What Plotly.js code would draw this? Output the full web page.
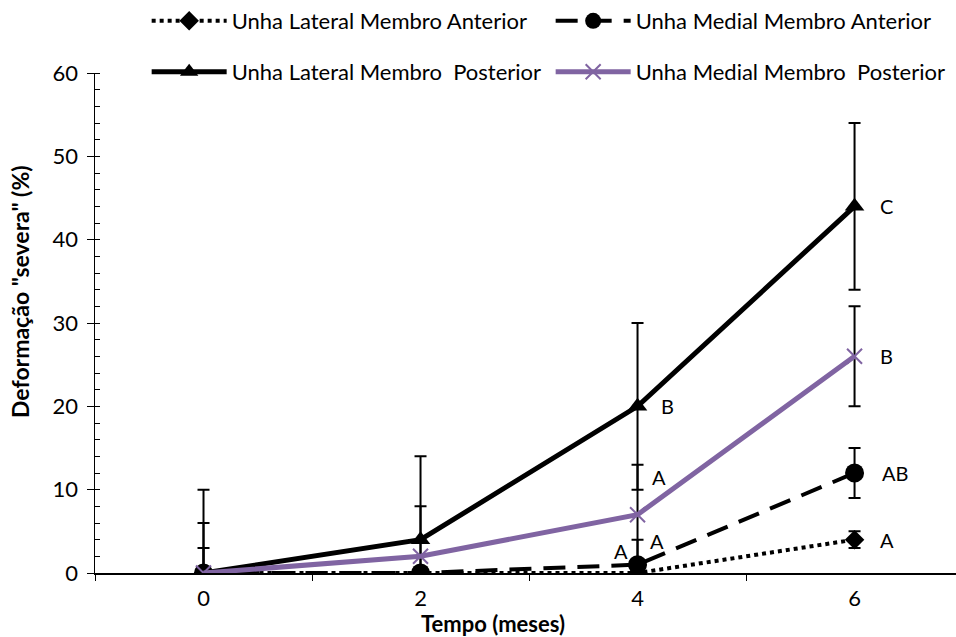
<!DOCTYPE html>
<html><head><meta charset="utf-8">
<script src="https://cdn.plot.ly/plotly-3.0.1.min.js"></script>
<style>html,body{margin:0;padding:0;background:#fff}#c{width:956px;height:637px}</style>
</head><body><div id="c"></div>
<script>
const meses = [0, 2, 4, 6];
const names = ["Unha Lateral Membro Anterior", "Unha Medial Membro Anterior", "Unha Lateral Membro  Posterior", "Unha Medial Membro  Posterior"];
const lateralAnterior = [0, 0, 0, 4];
const lateralAnteriorErr = [0, 0, 0, 1];
const medialAnterior = [0, 0, 1, 12];
const medialAnteriorErr = [3, 0, 3, 3];
const lateralPosterior = [0, 4, 20, 44];
const lateralPosteriorErr = [10, 10, 10, 10];
const medialPosterior = [0, 2, 7, 26];
const medialPosteriorErr = [6, 6, 6, 6];
const letterX = [6, 6, 6, 6, 4, 4, 4, 4];
const letterY = [44, 26, 12, 4, 20, 11.5, 3.8, 2.7];
const letters = ["C", "B", "AB", "A", "B", "A", "A", "A"];
const letterDx = [32, 32, 40, 32, 30, 21, 19, -17];

const F = "Lato, 'Open Sans', sans-serif";
const purple = "#8064a2";
const eb = (arr) => ({type: "data", array: arr, visible: true, color: "#000", thickness: 2, width: 6});

const traces = [
  {x: meses, y: lateralAnterior, name: names[0], mode: "lines+markers", legend: "legend",
   line: {color: "#000", width: 4, dash: "dot"}, marker: {symbol: "diamond", size: 15, color: "#000"},
   error_y: eb(lateralAnteriorErr)},
  {x: meses, y: medialAnterior, name: names[1], mode: "lines+markers", legend: "legend",
   line: {color: "#000", width: 4, dash: "22px,12px"}, marker: {symbol: "circle", size: 19, color: "#000"},
   error_y: eb(medialAnteriorErr)},
  {x: meses, y: lateralPosterior, name: names[2], mode: "lines+markers", legend: "legend2",
   line: {color: "#000", width: 5}, marker: {symbol: "triangle-up", size: 17, color: "#000"},
   error_y: eb(lateralPosteriorErr)},
  {x: meses, y: medialPosterior, name: names[3], mode: "lines+markers", legend: "legend2",
   line: {color: purple, width: 5}, marker: {symbol: "x-thin-open", size: 15, color: purple, line: {color: purple, width: 2}},
   error_y: eb(medialPosteriorErr)}
];

const annotations = letters.map((t, i) => ({
  x: letterX[i], y: letterY[i], xref: "x", yref: "y", text: t, showarrow: false,
  xshift: letterDx[i], font: {family: F, size: 20, color: "#000"}
}));
annotations.push({x: 0.4625, y: -0.1, xref: "paper", yref: "paper", xanchor: "center", yanchor: "middle",
  text: "<b>Tempo (meses)</b>", showarrow: false, font: {family: F, size: 22, color: "#000"}});
annotations.push({x: -0.0871, y: 0.562, xref: "paper", yref: "paper", xanchor: "center", yanchor: "middle",
  text: "<b>Deformação \"severa\" (%)</b>", textangle: -90, showarrow: false, font: {family: F, size: 23, color: "#000"}});

const legendBase = {orientation: "h", xref: "paper", yref: "container", xanchor: "left", yanchor: "middle",
  font: {family: F, size: 22, color: "#000"}, entrywidth: 314, entrywidthmode: "pixels",
  bgcolor: "rgba(0,0,0,0)", itemwidth: 75, traceorder: "normal"};

const layout = {
  width: 956, height: 637,
  margin: {l: 95, r: 0, t: 73, b: 64, autoexpand: false},
  paper_bgcolor: "#fff", plot_bgcolor: "#fff",
  showlegend: true,
  legend: Object.assign({}, legendBase, {x: 0.06, y: 1 - 21/637}),
  legend2: Object.assign({}, legendBase, {x: 0.06, y: 1 - 72/637}),
  xaxis: {range: [-1, 6.935], tickvals: meses, ticktext: meses.map(String), ticks: "", showgrid: false, zeroline: false,
    showline: true, linecolor: "#000", linewidth: 1.5, ticklabelstandoff: 5,
    minor: {ticks: "outside", tick0: -1, dtick: 2, ticklen: 6, tickcolor: "#000", showgrid: false},
    tickfont: {family: F, size: 22, color: "#000"}},
  yaxis: {range: [0, 60], dtick: 10, ticks: "outside", ticklen: 7, tickcolor: "#000", showgrid: false, zeroline: false,
    showline: true, linecolor: "#000", linewidth: 1.5, ticklabelstandoff: 4,
    minor: {ticks: "inside", dtick: 2, ticklen: 5, tickcolor: "#000", showgrid: false},
    tickfont: {family: F, size: 22, color: "#000"}},
  annotations: annotations
};

Plotly.newPlot("c", traces, layout, {displayModeBar: false, staticPlot: true});
</script></body></html>
